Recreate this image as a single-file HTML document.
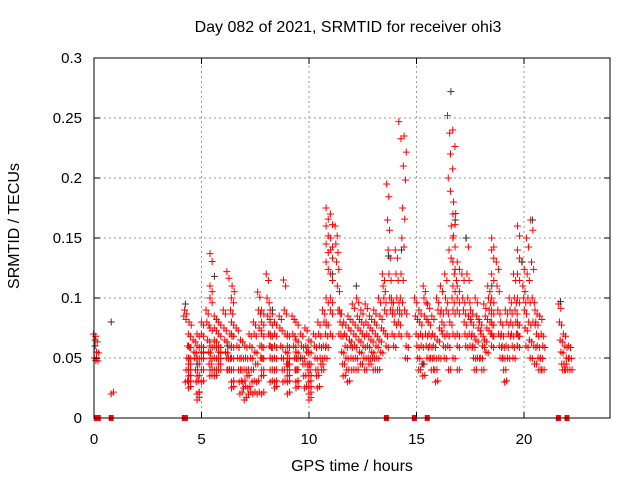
<!DOCTYPE html>
<html><head><meta charset="utf-8"><style>
body{margin:0;background:#fff;}
svg{display:block;font-family:"Liberation Sans",sans-serif;}
</style></head><body>
<svg id="chart" width="640" height="480">
<rect x="0" y="0" width="640" height="480" fill="#fff"/>
<g id="grid"></g>
<g id="marks"></g>
<rect x="94" y="58" width="516" height="360" fill="none" stroke="#000" stroke-width="1"/>
<g id="axes"></g>
<text x="348" y="32" text-anchor="middle" font-size="16">Day 082 of 2021, SRMTID for receiver ohi3</text>
<text x="19" y="226" text-anchor="middle" font-size="16" transform="rotate(-90 19 226)">SRMTID / TECUs</text>
<text x="352" y="471" text-anchor="middle" font-size="16">GPS time / hours</text>
</svg>
<script>
const xTicks=[0,5,10,15,20];
const yTicks=[0,0.05,0.1,0.15,0.2,0.25,0.3];
const yTickLabels=["0","0.05","0.1","0.15","0.2","0.25","0.3"];
const groupHours=[0.05,0.8,4.3,4.5,4.7,4.9,5.1,5.3,5.5,5.7,5.9,6.1,6.3,6.5,6.7,6.9,7.1,7.3,7.5,7.7,7.9,8.1,8.3,8.5,8.7,8.9,9.1,9.3,9.5,9.7,9.9,10.1,10.3,10.5,10.7,10.9,11.1,11.3,11.5,11.7,11.9,12.1,12.3,12.5,12.7,12.9,13.1,13.3,13.5,13.7,13.9,14.1,14.3,14.5,15.0,15.2,15.4,15.6,15.8,16.0,16.2,16.4,16.6,16.8,17.0,17.2,17.4,17.6,17.8,18.0,18.2,18.4,18.6,18.8,19.0,19.2,19.4,19.6,19.8,20.0,20.2,20.4,20.6,20.8,21.7,21.9,22.1];
const groupValues=[
[.07,.065,.055,.05,.048],[.02],
[.085,.08,.07,.06,.05,.04,.03,.09],[.06,.05,.045,.04,.035,.03,.025],[.065,.055,.05,.04,.03,.02],[.07,.06,.05,.045,.035,.02,.015],
[.08,.07,.06,.055,.05,.04,.03],[.09,.08,.065,.055,.045,.035],[.137,.11,.1,.075,.06,.05,.04],[.085,.075,.065,.06,.05,.04,.035],
[.08,.07,.06,.055,.05,.045,.04],[.09,.075,.065,.055,.05,.04],[.122,.11,.1,.09,.07,.06,.05,.04],[.08,.07,.06,.05,.04,.03,.025],
[.075,.06,.05,.04,.03,.02],[.065,.05,.04,.03,.025,.015],[.06,.05,.04,.035,.025,.02],[.07,.06,.05,.04,.03,.02],
[.08,.07,.055,.045,.03,.02],[.105,.09,.075,.06,.05,.035],[.09,.08,.07,.06,.05,.04,.02],[.12,.1,.085,.07,.06,.05],
[.09,.08,.07,.06,.05,.04,.03],[.08,.07,.06,.05,.04,.03,.025],[.085,.075,.06,.05,.04,.03],[.115,.09,.07,.055,.045,.035],
[.07,.06,.05,.045,.04,.03,.02],[.085,.07,.06,.05,.04,.03],[.08,.065,.055,.05,.04,.03,.025],[.07,.06,.05,.045,.035,.025],
[.075,.06,.055,.045,.04,.03],[.065,.055,.045,.035,.025,.02,.015],[.07,.06,.05,.04,.035,.025],[.08,.07,.06,.05,.045,.04],
[.09,.08,.07,.06,.05],[.175,.16,.145,.13,.1,.08,.06],[.17,.15,.14,.12,.1,.09,.07],[.16,.145,.13,.11,.09,.07],
[.09,.08,.07,.055,.045,.035],[.08,.07,.06,.05,.04,.03],[.085,.075,.065,.06,.05,.04],[.095,.08,.07,.06,.05,.04],
[.1,.085,.075,.065,.055,.045],[.09,.08,.07,.06,.05,.04],[.095,.08,.07,.06,.05,.045],[.085,.075,.065,.055,.05,.04],
[.09,.08,.07,.06,.05,.04],[.1,.085,.075,.065,.055],[.12,.11,.1,.09,.07,.06],[.195,.165,.14,.12,.1,.09],
[.1,.09,.08,.07,.06],[.14,.12,.1,.09,.08,.07],[.247,.235,.21,.175,.15,.12,.1,.09],[.09,.07,.06,.05],
[.1,.085,.07,.06,.05,.04],[.09,.08,.07,.06,.045,.035],[.11,.1,.085,.07,.06,.05],[.095,.08,.07,.06,.05,.04],
[.085,.07,.06,.05,.04,.03],[.1,.09,.075,.065,.05],[.11,.09,.08,.07,.06,.05],[.12,.1,.09,.07,.06,.04],
[.252,.24,.22,.2,.18,.16,.14,.12,.1,.08],[.17,.15,.13,.11,.09,.07,.05],[.13,.11,.1,.09,.07,.06,.04],[.12,.1,.09,.08,.07,.06],
[.15,.12,.1,.085,.07,.06],[.09,.08,.07,.06,.05,.04],[.1,.085,.075,.065,.05],[.08,.07,.06,.05,.04],
[.095,.085,.075,.065,.055],[.11,.1,.09,.08,.07,.06],[.15,.14,.12,.1,.09,.08,.07],[.13,.11,.09,.07,.06,.05],
[.08,.07,.06,.05,.04,.03],[.09,.08,.07,.06,.05],[.1,.09,.08,.07,.06,.05],[.12,.1,.09,.08,.07,.06],
[.16,.14,.12,.1,.08,.07,.06],[.13,.11,.1,.09,.075,.06],[.15,.12,.1,.08,.065,.05],[.165,.13,.1,.08,.06,.045],
[.09,.08,.07,.06,.05,.04],[.085,.07,.06,.05,.04],[.095,.08,.065,.055,.045,.04],[.07,.06,.05,.045,.04],[.06,.05,.04]];
const grayHours=[0.05,0.8,4.25,5.6,6.2,8.3,11.1,12.2,13.7,14.3,16.6,16.8,17.3,18.5,19.9,20.4,21.7,4.8,9.6,15.3];
const grayValues=[0.06,0.08,0.095,0.118,0.06,0.09,0.12,0.11,0.135,0.14,0.272,0.165,0.15,0.11,0.13,0.165,0.097,0.045,0.05,0.045];
const zeroHours=[0.1,0.2,0.8,4.2,4.25,13.6,14.9,15.5,21.6,22.0];

const X0=94,X1=610,Y0=418,Y1=58;
const xs=h=>X0+h*(X1-X0)/24;
const ys=v=>Y0-v*(Y0-Y1)/0.3;
const NS="http://www.w3.org/2000/svg";
const grid=document.getElementById('grid'),axes=document.getElementById('axes'),marks=document.getElementById('marks');
function mk(t,a,p){const e=document.createElementNS(NS,t);for(const k in a)e.setAttribute(k,a[k]);p.appendChild(e);return e;}
xTicks.forEach(t=>{
  const x=xs(t);
  if(t>0){const g=mk('line',{x1:x,y1:Y0,x2:x,y2:Y1,stroke:'#999','stroke-dasharray':'2,3'},grid);
  
  }
  mk('line',{x1:x,y1:Y0,x2:x,y2:Y0-6,stroke:'#000'},axes);
  mk('line',{x1:x,y1:Y1,x2:x,y2:Y1+6,stroke:'#000'},axes);
  const l=mk('text',{x:x,y:444,'text-anchor':'middle','font-size':15},axes);l.textContent=t;
  
  
});
yTicks.forEach((t,i)=>{
  const y=ys(t);
  if(t>0&&t<0.3){const g=mk('line',{x1:X0,y1:y,x2:X1,y2:y,stroke:'#999','stroke-dasharray':'2,3'},grid);
  
  }
  mk('line',{x1:X0,y1:y,x2:X0+6,y2:y,stroke:'#000'},axes);
  mk('line',{x1:X1,y1:y,x2:X1-6,y2:y,stroke:'#000'},axes);
  const l=mk('text',{x:82,y:y+5,'text-anchor':'end','font-size':15},axes);l.textContent=yTickLabels[i];
  
  
});
function plus(h,v,c,name){
  const x=xs(h),y=ys(v);
  const p=mk('path',{d:`M${x-3.5},${y}H${x+3.5}M${x},${y-3.5}V${y+3.5}`,stroke:c,'stroke-width':1,fill:'none'},marks);
  
  
}
groupHours.forEach((h,gi)=>{
  const vals=groupValues[gi];const n=vals.length;
  vals.forEach((v,i)=>{
    const off=((i*7)%n - (n-1)/2)*0.035;
    plus(h+off,v,'#f00','srmtid-point');
    plus(h+off+0.1,v*0.93+0.003,'#f00','srmtid-point');
  });
});
grayHours.forEach((h,i)=>plus(h,grayValues[i],'#333','srmtid-point-gray'));
zeroHours.forEach(h=>{
  const r=mk('rect',{x:xs(h)-2.5,y:Y0-3,width:5,height:6,fill:'#f00'},marks);
  
  
});
</script>
</body></html>
